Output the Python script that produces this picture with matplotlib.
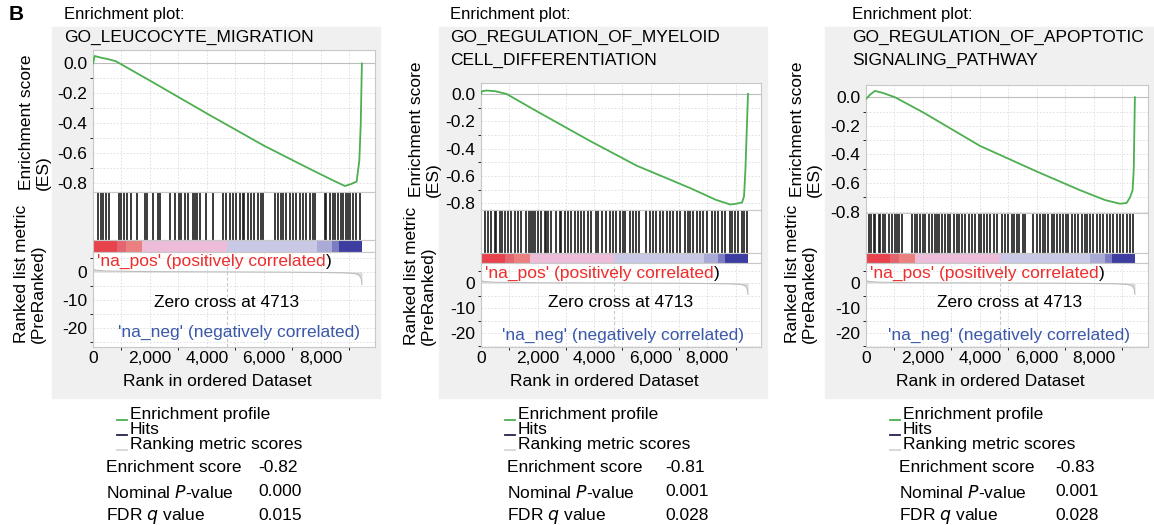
import matplotlib
matplotlib.use("Agg")
import matplotlib.pyplot as plt
from matplotlib.patches import Rectangle
from matplotlib.lines import Line2D

plt.rcParams['font.family'] = ['Liberation Sans', 'DejaVu Sans']
plt.rcParams['axes.unicode_minus'] = False

W, H = 1154, 525

# ---- data ----
titles = [["Enrichment plot:", "GO_LEUCOCYTE_MIGRATION"],
          ["Enrichment plot:", "GO_REGULATION_OF_MYELOID", "CELL_DIFFERENTIATION"],
          ["Enrichment plot:", "GO_REGULATION_OF_APOPTOTIC", "SIGNALING_PATHWAY"]]

es_rank_1 = [0, 60, 250, 500, 800, 2000, 4000, 6000, 7500, 8400, 8845, 9080, 9255, 9350, 9400, 9440]
es_val_1 = [0.0, 0.05, 0.04, 0.03, 0.015, -0.115, -0.335, -0.55, -0.695, -0.78, -0.82, -0.805, -0.79, -0.65, -0.40, 0.0]
es_rank_2 = [0, 30, 200, 500, 900, 2000, 3860, 5500, 7400, 8300, 8815, 9000, 9230, 9300, 9350, 9440]
es_val_2 = [0.0, 0.02, 0.025, 0.02, 0.0, -0.13, -0.345, -0.525, -0.69, -0.775, -0.81, -0.805, -0.795, -0.75, -0.55, 0.0]
es_rank_3 = [0, 60, 150, 320, 600, 1020, 2000, 4000, 6000, 7510, 8400, 8915, 9150, 9270, 9360, 9400, 9440]
es_val_3 = [-0.01, 0.0, 0.02, 0.045, 0.03, 0.0, -0.105, -0.34, -0.52, -0.65, -0.72, -0.745, -0.74, -0.70, -0.65, -0.5, 0.0]

hits_1 = [0, 175, 290, 350, 470, 550, 910, 995, 1080, 1205, 1325, 1555, 1815, 1895, 2105,
          2280, 2340, 2690, 2890, 3010, 3100, 3240, 3335, 3510, 3590, 3660, 3745, 3980, 4210,
          4560, 4680, 4800, 4915, 5030, 5150, 5265, 5300, 5440, 5535, 5650, 5790, 5905, 5965,
          6375, 6490, 6610, 6670, 6785, 6900, 7020, 7135, 7255, 7370, 7485, 7605, 7720, 7780,
          8130, 8190, 8305, 8420, 8480, 8600, 8715, 8775, 8890, 8950, 9010, 9125, 9240, 9360]
hits_2 = [0, 130, 247, 365, 484, 542, 662, 744, 839, 956, 1073, 1215, 1310, 1406, 1604, 1689,
          1781, 1841, 1922, 2018, 2135, 2255, 2312, 2372, 2489, 2667, 2787, 2843, 2963, 3080,
          3197, 3316, 3433, 3550, 3646, 3788, 3905, 4082, 4142, 4284, 4436, 4556, 4672, 4790,
          4909, 5026, 5107, 5263, 5380, 5497, 5582, 5851, 5971, 6088, 6205, 6325, 6442, 6559,
          6679, 6796, 6913, 7033, 7210, 7327, 7387, 7504, 7621, 7741, 7858, 7975, 8152, 8273,
          8390, 8507, 8627, 8803, 8861, 8981, 9098, 9214, 9311, 9391]
hits_3 = [0, 95, 185, 270, 325, 445, 500, 585, 675, 795, 915, 1030, 1090, 1170, 1265, 1615,
          1710, 1790, 1905, 1990, 2080, 2200, 2315, 2410, 2490, 2575, 2670, 2785, 2880, 2960,
          3080, 3195, 3255, 3370, 3490, 3605, 3720, 3840, 3955, 4045, 4130, 4245, 4365, 4485,
          4600, 4765, 4880, 4995, 5115, 5195, 5290, 5380, 5500, 5580, 5870, 5990, 6105, 6200,
          6280, 6400, 6515, 6600, 6690, 6810, 6925, 7020, 7100, 7220, 7335, 7450, 7570, 7690,
          7770, 7865, 7980, 8100, 8215, 8330, 8450, 8565, 8680, 8800, 8915, 9035, 9150, 9265, 9385]

metric_rank = [0, 20, 100, 500, 2000, 4713, 7000, 8800, 9200, 9350, 9420, 9440]
metric_val = [1.8, 1.0, 0.6, 0.3, 0.1, 0.0, -0.1, -0.3, -0.6, -1.2, -2.5, -4.5]
zero_cross = 4713

bar_edges = [0, 850, 1170, 1720, 4713, 7870, 8390, 8620, 9440]
bar_colors = ['#e8434c', '#e4646f', '#ea8080', '#ecbcd8', '#c9c9e6', '#aaaad6', '#7c7cc2', '#3d3ca0']

stat_names = ["Enrichment score", "Nominal $\\it{P}$-value", "FDR $\\it{q}$ value"]
stat_vals = [["-0.82", "0.000", "0.015"],
             ["-0.81", "0.001", "0.028"],
             ["-0.83", "0.001", "0.028"]]
legend_labels = ["Enrichment profile", "Hits", "Ranking metric scores"]
legend_colors = ['#4caf50', '#23234d', '#d6d6d6']

es_data = [(es_rank_1, es_val_1), (es_rank_2, es_val_2), (es_rank_3, es_val_3)]
hits_data = [hits_1, hits_2, hits_3]

# ---- layout in pixels ----
panels = [
    dict(box=(52, 27, 380, 398), tx=64, ax_x=(93, 375), es=(50, 192), hit=(192, 240), cb=(240, 252),
         rk=(252, 347), es_lim=(-0.86, 0.09), rk_lim=(-26.8, 7.1), lab_x=35, es_lab_y=190, rk_lab_y=343,
         leg_x=117, st_x=106, sv_x=258, zc=(0.475, 0.47), pos_y=0.905, neg=(0.947, 0.15)),
    dict(box=(439, 27, 767, 398), tx=450, ax_x=(481, 761), es=(83, 210), hit=(210, 253), cb=(253, 263),
         rk=(263, 347), es_lim=(-0.85, 0.08), rk_lim=(-25.6, 8.0), lab_x=425, es_lab_y=197, rk_lab_y=345,
         leg_x=505, st_x=507, sv_x=665, zc=(0.5, 0.53), pos_y=0.88, neg=(0.94, 0.143)),
    dict(box=(825, 27, 1154, 398), tx=852, ax_x=(866, 1148), es=(85, 213), hit=(213, 253), cb=(253, 263),
         rk=(263, 347), es_lim=(-0.81, 0.086), rk_lim=(-25.6, 8.0), lab_x=806, es_lab_y=197, rk_lab_y=343,
         leg_x=890, st_x=899, sv_x=1055, zc=(0.51, 0.535), pos_y=0.88, neg=(0.936, 0.143)),
]

fig = plt.figure(figsize=(W / 100, H / 100), dpi=100)


def rect(x0, x1, y0, y1):
    return [x0 / W, 1 - y1 / H, (x1 - x0) / W, (y1 - y0) / H]


def fx(x):
    return x / W


def fy(y):
    return 1 - y / H


FS = 12.5
grid_kw = dict(color='#dcdcdc', lw=0.6, ls=(0, (2, 2)))

fig.text(fx(9), fy(15), "B", fontsize=15, fontweight='bold', va='center')

for i, p in enumerate(panels):
    bx0, by0, bx1, by1 = p['box']
    fig.add_artist(Rectangle((fx(bx0), fy(by1)), (bx1 - bx0) / W, (by1 - by0) / H,
                             transform=fig.transFigure, color='#f0f0f0', zorder=0))
    for k, line in enumerate(titles[i]):
        fig.text(fx(p['tx']), fy(15 + 22.5 * k), line, fontsize=FS if k else 12, va='center')

    x0, x1 = p['ax_x']

    # enrichment score
    ax = fig.add_axes(rect(x0, x1, *p['es']))
    r, v = es_data[i]
    ax.plot(r, v, color='#4caf50', lw=1.3, zorder=3)
    ax.axhline(0, color='#bdbdbd', lw=0.8)
    ax.set_xlim(0, 9900)
    ax.set_ylim(*p['es_lim'])
    ax.set_yticks([0.0, -0.2, -0.4, -0.6, -0.8])
    ax.set_yticklabels(["%.1f" % t for t in [0.0, -0.2, -0.4, -0.6, -0.8]])
    ax.set_xticks(range(1000, 10000, 1000))
    ax.set_xticklabels([])
    ax.set_yticks([-0.1, -0.3, -0.5, -0.7], minor=True)
    ax.grid(True, which='both', **grid_kw)
    ax.tick_params(length=0, labelsize=FS, pad=4)

    # hits
    axh = fig.add_axes(rect(x0, x1, *p['hit']))
    axh.vlines(hits_data[i], 0, 1, color='#1a1a1a', lw=1.2)
    axh.set_xlim(0, 9900)
    axh.set_ylim(0, 1)
    axh.set_xticks([])
    axh.set_yticks([])

    # colour bar of the ranked list
    axc = fig.add_axes(rect(x0, x1, *p['cb']))
    for a, b, c in zip(bar_edges[:-1], bar_edges[1:], bar_colors):
        axc.axvspan(a, b, color=c, lw=0)
    axc.set_xlim(0, 9900)
    axc.set_xticks([])
    axc.set_yticks([])

    # ranked list metric
    axr = fig.add_axes(rect(x0, x1, *p['rk']))
    axr.fill_between(metric_rank, metric_val, 0, color='#d9d9d9', lw=0)
    axr.plot(metric_rank, metric_val, color='#bdbdbd', lw=0.8)
    axr.axvline(zero_cross, color='#c8c8c8', lw=0.8, ls=(0, (3, 2)))
    axr.set_xlim(0, 9900)
    axr.set_ylim(*p['rk_lim'])
    axr.set_yticks([0, -10, -20])
    axr.set_yticks([5, -5, -15, -25], minor=True)
    axr.set_xticks(range(0, 10000, 2000))
    axr.set_xticks(range(1000, 10000, 2000), minor=True)
    axr.set_xticklabels(["{:,}".format(t) for t in range(0, 10000, 2000)])
    axr.grid(True, which='both', **grid_kw)
    axr.tick_params(length=0, labelsize=FS, pad=4)
    axr.tick_params(axis='x', pad=3)
    axr.set_xlabel("Rank in ordered Dataset", fontsize=FS)
    axr.xaxis.set_label_coords(0.44, -(381 - p['rk'][1]) / (p['rk'][1] - p['rk'][0]))
    axr.xaxis.label.set_va('center')

    t = axr.text(0.014, p['pos_y'], "'na_pos' (positively correlated", color='#ee2d2d',
                 fontsize=FS, transform=axr.transAxes, va='center')
    axr.annotate(")", xy=(1, 0), xycoords=t, va='bottom', ha='left', fontsize=FS, color='black')
    axr.text(p['zc'][0], p['zc'][1], "Zero cross at %d" % zero_cross, fontsize=FS,
             transform=axr.transAxes, ha='center', va='center')
    axr.text(p['neg'][0], p['neg'][1], "'na_neg' (negatively correlated)", color='#3b59a8',
             fontsize=FS, transform=axr.transAxes, ha='right', va='center')

    for a in (ax, axh, axc, axr):
        for s in a.spines.values():
            s.set_color('#c8c8c8')
            s.set_linewidth(0.8)

    fig.text(fx(p['lab_x']), fy(p['es_lab_y']), "Enrichment score\n(ES)", rotation=90,
             fontsize=FS, ha='center', va='bottom', multialignment='left', linespacing=1.2)
    fig.text(fx(p['lab_x'] - 5), fy(p['rk_lab_y']), "Ranked list metric\n(PreRanked)", rotation=90,
             fontsize=FS, ha='center', va='bottom', multialignment='left', linespacing=1.2)

    # legend
    lx = p['leg_x']
    for k, (lab, col) in enumerate(zip(legend_labels, legend_colors)):
        yy = 414 + 15 * k
        fig.add_artist(Line2D([fx(lx), fx(lx + 10)], [fy(yy + 6), fy(yy + 6)], color=col, lw=1.3,
                              transform=fig.transFigure))
        fig.text(fx(lx + 13), fy(yy), lab, fontsize=FS, va='center')

    # statistics
    for k, name in enumerate(stat_names):
        yy = 468 + 24 * k
        fig.text(fx(p['st_x']), fy(yy), name, fontsize=FS, va='center')
        fig.text(fx(p['sv_x']), fy(yy), stat_vals[i][k], fontsize=FS, va='center')

fig.savefig("out.png", dpi=100)
